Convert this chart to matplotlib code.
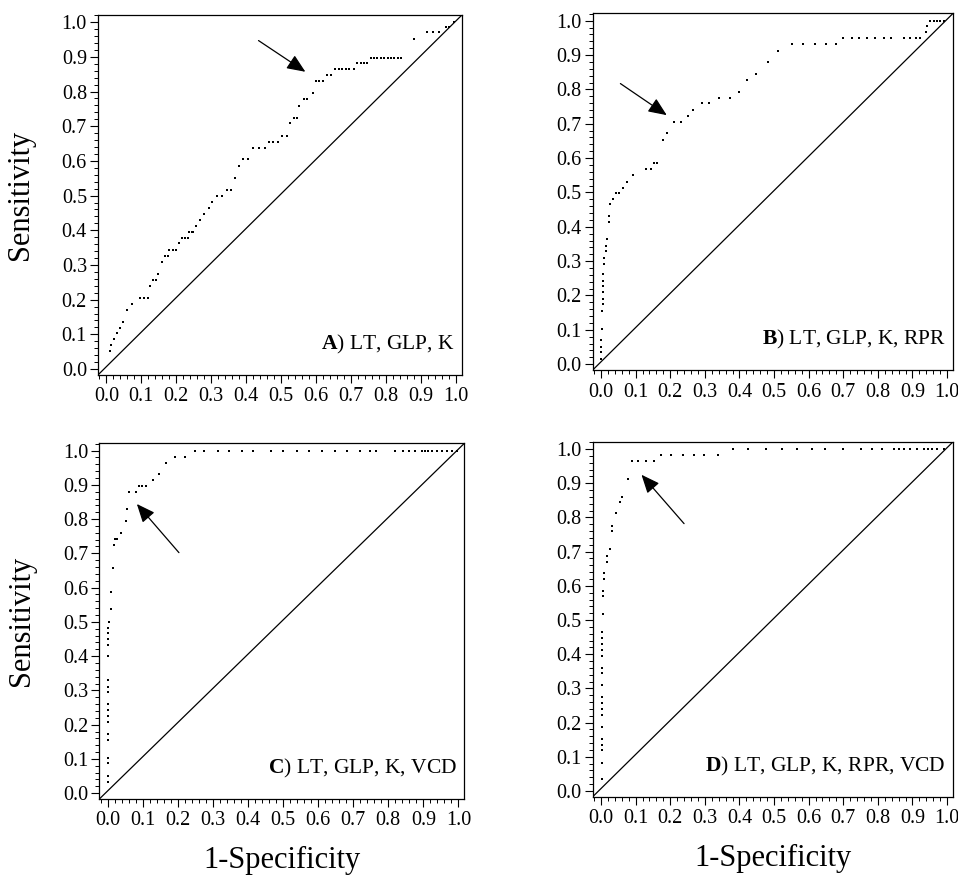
import matplotlib
matplotlib.use('Agg')
import matplotlib.pyplot as plt
from matplotlib.ticker import MultipleLocator

plt.rcParams['font.family'] = 'Liberation Serif'
plt.rcParams['mathtext.fontset'] = 'custom'
plt.rcParams['mathtext.rm'] = 'Liberation Serif'
plt.rcParams['mathtext.bf'] = 'Liberation Serif:bold'

####################################################################################################
# ROC points (1-Specificity, Sensitivity)
fpr_a = [0.010, 0.014, 0.021, 0.030, 0.038, 0.048, 0.059, 0.074, 0.096, 0.108, 0.120, 0.124,
         0.132, 0.141, 0.148, 0.158, 0.167, 0.175, 0.180, 0.190, 0.200, 0.209, 0.215, 0.225,
         0.232, 0.236, 0.244, 0.249, 0.255, 0.268, 0.278, 0.292, 0.301, 0.316, 0.330, 0.344,
         0.357, 0.368, 0.380, 0.392, 0.405, 0.419, 0.435, 0.453, 0.464, 0.477, 0.490, 0.502,
         0.517, 0.526, 0.536, 0.545, 0.550, 0.565, 0.574, 0.590, 0.598, 0.608, 0.620, 0.632,
         0.641, 0.655, 0.665, 0.675, 0.685, 0.695, 0.708, 0.718, 0.727, 0.737, 0.746, 0.756,
         0.766, 0.775, 0.785, 0.795, 0.804, 0.814, 0.823, 0.833, 0.842, 0.880, 0.917, 0.933,
         0.952, 0.971, 0.981, 0.995]
tpr_a = [0.052, 0.069, 0.086, 0.103, 0.118, 0.137, 0.171, 0.188, 0.206, 0.206, 0.206, 0.240,
         0.257, 0.257, 0.275, 0.310, 0.327, 0.327, 0.344, 0.344, 0.344, 0.362, 0.378, 0.378,
         0.378, 0.395, 0.395, 0.395, 0.412, 0.431, 0.447, 0.465, 0.482, 0.499, 0.499, 0.516,
         0.516, 0.552, 0.585, 0.605, 0.605, 0.638, 0.638, 0.638, 0.655, 0.655, 0.655, 0.672,
         0.672, 0.709, 0.725, 0.725, 0.759, 0.778, 0.778, 0.795, 0.831, 0.831, 0.831, 0.848,
         0.848, 0.865, 0.865, 0.865, 0.865, 0.865, 0.865, 0.881, 0.881, 0.881, 0.881, 0.898,
         0.898, 0.898, 0.898, 0.898, 0.898, 0.898, 0.898, 0.898, 0.898, 0.952, 0.971, 0.971,
         0.971, 0.985, 0.985, 1.000]

fpr_b = [0.000, 0.000, 0.000, 0.000, 0.003, 0.003, 0.005, 0.005, 0.005, 0.007, 0.007, 0.007,
         0.010, 0.010, 0.013, 0.013, 0.017, 0.022, 0.024, 0.027, 0.034, 0.043, 0.053, 0.063,
         0.075, 0.091, 0.130, 0.144, 0.154, 0.163, 0.178, 0.192, 0.212, 0.231, 0.250, 0.267,
         0.293, 0.313, 0.341, 0.373, 0.399, 0.421, 0.447, 0.483, 0.512, 0.553, 0.585, 0.617,
         0.649, 0.678, 0.700, 0.724, 0.745, 0.769, 0.793, 0.817, 0.837, 0.875, 0.894, 0.909,
         0.923, 0.938, 0.942, 0.952, 0.962, 0.971, 0.981, 0.990]
tpr_b = [0.016, 0.036, 0.050, 0.070, 0.103, 0.156, 0.176, 0.190, 0.209, 0.229, 0.243, 0.262,
         0.291, 0.310, 0.330, 0.344, 0.364, 0.414, 0.431, 0.465, 0.482, 0.499, 0.499, 0.513,
         0.529, 0.552, 0.568, 0.568, 0.585, 0.585, 0.653, 0.672, 0.706, 0.706, 0.722, 0.740,
         0.759, 0.759, 0.776, 0.776, 0.793, 0.828, 0.846, 0.879, 0.913, 0.932, 0.932, 0.932,
         0.932, 0.932, 0.950, 0.950, 0.950, 0.950, 0.950, 0.950, 0.950, 0.950, 0.950, 0.950,
         0.950, 0.966, 0.986, 1.000, 1.000, 1.000, 1.000, 1.000]

fpr_c = [0.000, 0.000, 0.000, 0.000, 0.000, 0.000, 0.000, 0.000, 0.000, 0.000, 0.000, 0.000,
         0.000, 0.002, 0.002, 0.002, 0.002, 0.002, 0.004, 0.008, 0.009, 0.015, 0.018, 0.022,
         0.025, 0.037, 0.051, 0.056, 0.061, 0.080, 0.089, 0.099, 0.110, 0.129, 0.145, 0.167,
         0.192, 0.220, 0.249, 0.275, 0.315, 0.347, 0.382, 0.413, 0.465, 0.501, 0.539, 0.575,
         0.610, 0.648, 0.683, 0.718, 0.748, 0.765, 0.820, 0.841, 0.858, 0.877, 0.895, 0.905,
         0.914, 0.924, 0.938, 0.952, 0.967, 0.981, 0.995]
tpr_c = [0.034, 0.050, 0.088, 0.104, 0.156, 0.172, 0.208, 0.225, 0.242, 0.260, 0.294, 0.311,
         0.329, 0.399, 0.432, 0.450, 0.467, 0.483, 0.501, 0.537, 0.588, 0.657, 0.725, 0.742,
         0.742, 0.759, 0.795, 0.829, 0.879, 0.879, 0.897, 0.897, 0.897, 0.914, 0.932, 0.965,
         0.982, 0.982, 1.000, 1.000, 1.000, 1.000, 1.000, 1.000, 1.000, 1.000, 1.000, 1.000,
         1.000, 1.000, 1.000, 1.000, 1.000, 1.000, 1.000, 1.000, 1.000, 1.000, 1.000, 1.000,
         1.000, 1.000, 1.000, 1.000, 1.000, 1.000, 1.000]

fpr_d = [0.002, 0.002, 0.002, 0.002, 0.002, 0.002, 0.002, 0.002, 0.002, 0.002, 0.002, 0.002,
         0.002, 0.002, 0.002, 0.002, 0.002, 0.002, 0.006, 0.007, 0.007, 0.008, 0.008, 0.017,
         0.017, 0.027, 0.031, 0.031, 0.044, 0.054, 0.061, 0.077, 0.090, 0.106, 0.129, 0.152,
         0.173, 0.202, 0.236, 0.269, 0.298, 0.337, 0.380, 0.425, 0.476, 0.524, 0.567, 0.611,
         0.646, 0.700, 0.750, 0.784, 0.813, 0.846, 0.861, 0.875, 0.894, 0.913, 0.933, 0.944,
         0.957, 0.970, 0.990]
tpr_d = [0.034, 0.083, 0.119, 0.135, 0.153, 0.188, 0.222, 0.239, 0.258, 0.274, 0.309, 0.344,
         0.361, 0.395, 0.413, 0.429, 0.448, 0.465, 0.517, 0.570, 0.585, 0.621, 0.637, 0.671,
         0.688, 0.707, 0.759, 0.776, 0.812, 0.844, 0.861, 0.914, 0.964, 0.964, 0.964, 0.964,
         0.983, 0.983, 0.983, 0.983, 0.983, 0.983, 1.000, 1.000, 1.000, 1.000, 1.000, 1.000,
         1.000, 1.000, 1.000, 1.000, 1.000, 1.000, 1.000, 1.000, 1.000, 1.000, 1.000, 1.000,
         1.000, 1.000, 1.000]

panel_letters = ['A', 'B', 'C', 'D']
panel_models = ['LT, GLP, K', 'LT, GLP, K, RPR', 'LT, GLP, K, VCD', 'LT, GLP, K, RPR, VCD']

# arrows pointing at the chosen cut-off: (tail, tip) in data units
arrow_tails = [(0.435, 0.947), (0.056, 0.817), (0.203, 0.702), (0.240, 0.782)]
arrow_tips = [(0.569, 0.857), (0.190, 0.725), (0.083, 0.844), (0.117, 0.925)]

tick_values = [0.0, 0.1, 0.2, 0.3, 0.4, 0.5, 0.6, 0.7, 0.8, 0.9, 1.0]

####################################################################################################
fig = plt.figure(figsize=(9.58, 8.76), dpi=100)

ax_rects = [[0.1023, 0.5720, 0.3800, 0.4110],
            [0.6187, 0.5776, 0.3760, 0.4070],
            [0.1037, 0.0879, 0.3810, 0.4060],
            [0.6187, 0.0905, 0.3760, 0.4050]]

curves = [(fpr_a, tpr_a), (fpr_b, tpr_b), (fpr_c, tpr_c), (fpr_d, tpr_d)]

for k in range(4):
    ax = fig.add_axes(ax_rects[k])
    fpr, tpr = curves[k]

    # chance line from corner to corner
    ax.plot([0, 1], [0, 1], transform=ax.transAxes, color='k', lw=0.9)
    ax.plot(fpr, tpr, 's', color='k', ms=2.0, mew=0)

    ax.annotate('', xy=arrow_tips[k], xytext=arrow_tails[k],
                arrowprops=dict(arrowstyle='-|>,head_length=0.75,head_width=0.32',
                                color='k', lw=0.9, mutation_scale=15, shrinkA=0, shrinkB=0))

    ax.text(0.981, 0.085, r'$\mathbf{' + panel_letters[k] + '}$) ' + panel_models[k],
            transform=ax.transAxes, ha='right', va='center', fontsize=15.5)

    ax.set_xlim(-0.024, 1.017)
    ax.set_ylim(-0.017, 1.021)
    ax.set_xticks(tick_values)
    ax.set_yticks(tick_values)
    ax.set_xticklabels(['%.1f' % v for v in tick_values])
    ax.set_yticklabels(['%.1f' % v for v in tick_values])
    ax.xaxis.set_minor_locator(MultipleLocator(0.02))
    ax.yaxis.set_minor_locator(MultipleLocator(0.02))
    ax.tick_params(which='major', direction='out', length=6, width=0.8, labelsize=14.5, pad=2)
    ax.tick_params(which='minor', direction='out', length=3, width=0.7)
    ax.tick_params(axis='x', which='major', pad=3)
    for sp in ax.spines.values():
        sp.set_linewidth(0.9)

    if k % 2 == 0:
        ax.set_ylabel('Sensitivity', fontsize=22)
        ax.yaxis.set_label_coords(-0.174, 0.5)
    if k >= 2:
        ax.set_xlabel('1-Specificity', fontsize=22)
        ax.xaxis.set_label_coords(0.5, -0.132)

fig.savefig('out.png', dpi=100)
